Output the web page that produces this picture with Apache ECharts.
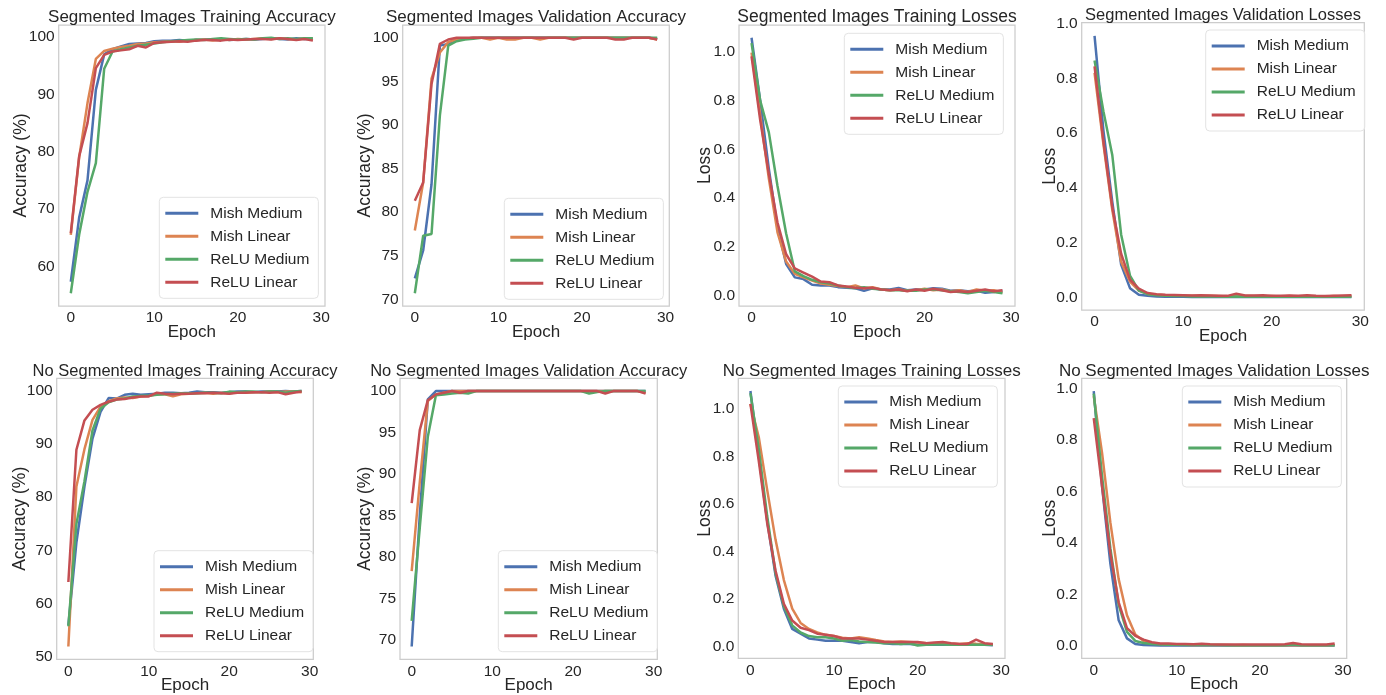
<!DOCTYPE html>
<html>
<head>
<meta charset="utf-8">
<title>Training curves</title>
<script src="https://cdn.jsdelivr.net/npm/echarts@6/dist/echarts.min.js"></script>
<style>
html, body { margin: 0; padding: 0; background: #fff; }
#main { width: 1386px; height: 695px; }
</style>
</head>
<body>
<div id="main"></div>
<script>
// ---- data ----
var names = ['Mish Medium', 'Mish Linear', 'ReLU Medium', 'ReLU Linear'];
var epochTicks = [0, 10, 20, 30];
var accTicksA = [60, 70, 80, 90, 100];
var accTicksB = [70, 75, 80, 85, 90, 95, 100];
var accTicksC = [50, 60, 70, 80, 90, 100];
var lossTicks = [0, 0.2, 0.4, 0.6, 0.8, 1.0];

var titles = [
    'Segmented Images Training Accuracy', 'Segmented Images Validation Accuracy',
    'Segmented Images Training Losses', 'Segmented Images Validation Losses',
    'No Segmented Images Training Accuracy', 'No Segmented Images Validation Accuracy',
    'No Segmented Images Training Losses', 'No Segmented Images Validation Losses'
];
var yNames = ['Accuracy (%)', 'Accuracy (%)', 'Loss', 'Loss', 'Accuracy (%)', 'Accuracy (%)', 'Loss', 'Loss'];

var segTrainAccMM = [57.3, 68.5, 75.0, 90.8, 97.0, 97.9, 98.4, 98.8, 98.9, 99.0, 99.3, 99.4, 99.4, 99.5, 99.4, 99.5, 99.6, 99.6, 99.7, 99.5, 99.6, 99.7, 99.6, 99.7, 99.8, 99.7, 99.6, 99.8, 99.7, 99.7];
var segTrainAccML = [65.5, 79.0, 88.5, 96.2, 97.6, 98.0, 98.3, 98.5, 98.8, 98.9, 99.1, 99.2, 99.3, 99.2, 99.4, 99.5, 99.6, 99.4, 99.6, 99.5, 99.7, 99.6, 99.7, 99.8, 99.7, 99.8, 99.7, 99.6, 99.8, 99.7];
var segTrainAccRM = [55.3, 65.5, 73.0, 78.0, 94.5, 97.5, 97.9, 98.2, 98.5, 98.7, 98.9, 99.1, 99.3, 99.4, 99.5, 99.6, 99.5, 99.7, 99.8, 99.7, 99.6, 99.7, 99.6, 99.8, 99.9, 99.7, 99.8, 99.7, 99.8, 99.8];
var segTrainAccRL = [65.8, 79.2, 85.0, 94.6, 96.9, 97.5, 97.7, 97.9, 98.5, 98.2, 99.0, 99.1, 99.2, 99.3, 99.2, 99.4, 99.5, 99.5, 99.4, 99.6, 99.5, 99.6, 99.7, 99.7, 99.6, 99.8, 99.7, 99.5, 99.7, 99.4];

var segValAccMM = [72.4, 75.6, 83.2, 99.1, 99.3, 99.8, 99.9, 100, 100, 100, 100, 100, 100, 100, 100, 100, 100, 100, 100, 100, 100, 100, 100, 100, 100, 100, 100, 100, 100, 99.9];
var segValAccML = [77.9, 83.4, 95.3, 98.3, 99.5, 99.8, 99.9, 100, 100, 99.8, 100, 99.8, 99.8, 100, 100, 99.8, 100, 100, 100, 100, 100, 100, 100, 100, 100, 100, 100, 100, 100, 99.8];
var segValAccRM = [70.7, 77.3, 77.5, 91.1, 99.1, 99.6, 99.8, 99.9, 100, 100, 100, 100, 100, 100, 100, 100, 100, 100, 100, 100, 100, 100, 100, 100, 100, 100, 100, 100, 100, 100];
var segValAccRL = [81.3, 83.4, 94.7, 99.3, 99.8, 100, 100, 100, 100, 100, 100, 100, 100, 100, 100, 100, 100, 100, 100, 99.8, 100, 100, 100, 100, 99.8, 99.8, 100, 100, 100, 99.8];

var segTrainLossMM = [1.058, 0.80, 0.52, 0.28, 0.13, 0.075, 0.068, 0.045, 0.042, 0.042, 0.035, 0.032, 0.03, 0.02, 0.03, 0.025, 0.025, 0.032, 0.022, 0.025, 0.025, 0.03, 0.028, 0.02, 0.022, 0.018, 0.02, 0.012, 0.015, 0.02];
var segTrainLossML = [0.997, 0.74, 0.48, 0.26, 0.14, 0.09, 0.075, 0.062, 0.05, 0.045, 0.04, 0.035, 0.042, 0.03, 0.035, 0.025, 0.022, 0.025, 0.02, 0.022, 0.028, 0.022, 0.025, 0.018, 0.022, 0.015, 0.025, 0.02, 0.022, 0.012];
var segTrainLossRM = [1.036, 0.80, 0.67, 0.45, 0.255, 0.10, 0.08, 0.065, 0.055, 0.05, 0.042, 0.035, 0.03, 0.035, 0.028, 0.025, 0.022, 0.022, 0.02, 0.02, 0.025, 0.025, 0.022, 0.018, 0.015, 0.01, 0.015, 0.02, 0.015, 0.01];
var segTrainLossRL = [0.982, 0.72, 0.50, 0.30, 0.17, 0.112, 0.095, 0.078, 0.058, 0.055, 0.042, 0.038, 0.032, 0.03, 0.032, 0.025, 0.022, 0.025, 0.018, 0.025, 0.02, 0.028, 0.022, 0.015, 0.018, 0.015, 0.02, 0.025, 0.018, 0.022];

var segValLossMM = [0.955, 0.61, 0.35, 0.12, 0.034, 0.01, 0.006, 0.004, 0.003, 0.003, 0.003, 0.002, 0.002, 0.002, 0.002, 0.002, 0.002, 0.002, 0.002, 0.002, 0.002, 0.002, 0.002, 0.002, 0.002, 0.002, 0.002, 0.002, 0.002, 0.002];
var segValLossML = [0.82, 0.56, 0.32, 0.13, 0.058, 0.025, 0.013, 0.01, 0.008, 0.007, 0.006, 0.006, 0.005, 0.006, 0.005, 0.004, 0.006, 0.005, 0.005, 0.004, 0.005, 0.004, 0.005, 0.004, 0.005, 0.004, 0.004, 0.005, 0.004, 0.005];
var segValLossRM = [0.865, 0.68, 0.52, 0.23, 0.08, 0.025, 0.012, 0.008, 0.006, 0.005, 0.005, 0.004, 0.004, 0.004, 0.004, 0.003, 0.004, 0.003, 0.003, 0.003, 0.003, 0.003, 0.003, 0.003, 0.003, 0.003, 0.003, 0.003, 0.003, 0.003];
var segValLossRL = [0.843, 0.57, 0.33, 0.16, 0.065, 0.032, 0.016, 0.012, 0.01, 0.009, 0.008, 0.007, 0.008, 0.007, 0.006, 0.006, 0.014, 0.007, 0.007, 0.008, 0.006, 0.006, 0.007, 0.006, 0.008, 0.006, 0.005, 0.006, 0.007, 0.008];

var noSegTrainAccMM = [56.0, 71.5, 82.0, 91.0, 96.0, 98.6, 98.5, 99.2, 99.4, 99.2, 99.3, 99.4, 99.6, 99.6, 99.5, 99.6, 99.8, 99.7, 99.7, 99.6, 99.7, 99.8, 99.8, 99.7, 99.8, 99.8, 99.8, 99.9, 99.8, 99.9];
var noSegTrainAccML = [52.0, 82.0, 89.0, 94.5, 97.0, 98.0, 98.5, 98.7, 98.6, 98.9, 99.0, 99.3, 99.3, 98.9, 99.3, 99.4, 99.5, 99.6, 99.4, 99.6, 99.5, 99.7, 99.6, 99.7, 99.7, 99.8, 99.7, 99.8, 99.8, 99.7];
var noSegTrainAccRM = [55.8, 75.0, 83.0, 92.5, 96.6, 97.8, 98.3, 98.5, 98.9, 99.0, 99.0, 99.2, 99.3, 99.4, 99.5, 99.5, 99.5, 99.6, 99.6, 99.5, 99.8, 99.7, 99.8, 99.8, 99.7, 99.8, 99.8, 99.6, 99.8, 99.9];
var noSegTrainAccRL = [64.1, 88.9, 94.4, 96.4, 97.3, 97.9, 98.3, 98.4, 98.7, 98.9, 98.9, 99.6, 99.4, 99.3, 99.4, 99.4, 99.5, 99.5, 99.6, 99.5, 99.4, 99.6, 99.6, 99.7, 99.7, 99.6, 99.7, 99.3, 99.6, 99.8];

var noSegValAccMM = [69.2, 85.0, 99.0, 100, 100, 100, 100, 100, 100, 100, 100, 100, 100, 100, 100, 100, 100, 100, 100, 100, 100, 100, 100, 100, 100, 100, 100, 100, 100, 100];
var noSegValAccML = [78.3, 89.0, 98.8, 99.6, 99.8, 100, 100, 100, 100, 100, 100, 100, 100, 100, 100, 100, 100, 100, 100, 100, 100, 100, 100, 100, 100, 100, 100, 100, 100, 99.8];
var noSegValAccRM = [72.3, 83.5, 94.5, 99.5, 99.6, 99.7, 99.8, 99.7, 100, 100, 100, 100, 100, 100, 100, 100, 100, 100, 100, 100, 100, 100, 99.7, 99.9, 100, 100, 100, 100, 100, 100];
var noSegValAccRL = [86.5, 95.3, 98.9, 99.6, 99.8, 100, 99.8, 100, 100, 100, 100, 100, 100, 100, 100, 100, 100, 100, 100, 100, 100, 100, 100, 100, 99.7, 100, 100, 100, 100, 99.7];

var noSegTrainLossMM = [1.074, 0.80, 0.53, 0.30, 0.16, 0.075, 0.055, 0.035, 0.03, 0.025, 0.025, 0.025, 0.02, 0.015, 0.02, 0.02, 0.015, 0.012, 0.012, 0.012, 0.01, 0.008, 0.008, 0.008, 0.01, 0.01, 0.01, 0.008, 0.008, 0.006];
var noSegTrainLossML = [1.02, 0.88, 0.66, 0.45, 0.28, 0.16, 0.10, 0.075, 0.06, 0.05, 0.045, 0.038, 0.035, 0.04, 0.035, 0.028, 0.022, 0.02, 0.022, 0.02, 0.018, 0.016, 0.015, 0.017, 0.014, 0.012, 0.015, 0.013, 0.012, 0.01];
var noSegTrainLossRM = [1.065, 0.83, 0.55, 0.31, 0.17, 0.09, 0.06, 0.045, 0.04, 0.04, 0.035, 0.025, 0.028, 0.022, 0.02, 0.018, 0.015, 0.015, 0.012, 0.015, 0.005, 0.008, 0.01, 0.01, 0.008, 0.008, 0.01, 0.008, 0.008, 0.008];
var noSegTrainLossRL = [1.02, 0.78, 0.52, 0.32, 0.18, 0.11, 0.08, 0.07, 0.055, 0.05, 0.045, 0.035, 0.035, 0.035, 0.03, 0.025, 0.02, 0.02, 0.02, 0.02, 0.02, 0.015, 0.018, 0.02, 0.015, 0.012, 0.012, 0.03, 0.015, 0.012];

var noSegValLossMM = [0.99, 0.62, 0.32, 0.10, 0.03, 0.008, 0.004, 0.003, 0.002, 0.002, 0.002, 0.002, 0.002, 0.002, 0.002, 0.002, 0.002, 0.002, 0.002, 0.002, 0.002, 0.002, 0.002, 0.002, 0.002, 0.002, 0.002, 0.002, 0.002, 0.002];
var noSegValLossML = [0.97, 0.75, 0.48, 0.26, 0.12, 0.045, 0.02, 0.012, 0.008, 0.006, 0.005, 0.005, 0.004, 0.005, 0.004, 0.004, 0.004, 0.003, 0.004, 0.003, 0.003, 0.003, 0.003, 0.003, 0.003, 0.003, 0.003, 0.003, 0.003, 0.004];
var noSegValLossRM = [0.98, 0.66, 0.38, 0.16, 0.055, 0.02, 0.012, 0.008, 0.006, 0.005, 0.005, 0.004, 0.004, 0.004, 0.004, 0.004, 0.003, 0.003, 0.003, 0.003, 0.003, 0.003, 0.003, 0.003, 0.006, 0.003, 0.003, 0.003, 0.003, 0.003];
var noSegValLossRL = [0.885, 0.62, 0.36, 0.17, 0.07, 0.04, 0.025, 0.015, 0.01, 0.01, 0.008, 0.008, 0.007, 0.009, 0.007, 0.006, 0.006, 0.006, 0.006, 0.006, 0.006, 0.006, 0.006, 0.007, 0.012, 0.007, 0.006, 0.006, 0.006, 0.01];

var panelSeries = [
    [segTrainAccMM, segTrainAccML, segTrainAccRM, segTrainAccRL],
    [segValAccMM, segValAccML, segValAccRM, segValAccRL],
    [segTrainLossMM, segTrainLossML, segTrainLossRM, segTrainLossRL],
    [segValLossMM, segValLossML, segValLossRM, segValLossRL],
    [noSegTrainAccMM, noSegTrainAccML, noSegTrainAccRM, noSegTrainAccRL],
    [noSegValAccMM, noSegValAccML, noSegValAccRM, noSegValAccRL],
    [noSegTrainLossMM, noSegTrainLossML, noSegTrainLossRM, noSegTrainLossRL],
    [noSegValLossMM, noSegValLossML, noSegValLossRM, noSegValLossRL]
];
var panelTicks = [accTicksA, accTicksB, lossTicks, lossTicks, accTicksC, accTicksB, lossTicks, lossTicks];

// ---- layout / style ----
var colors = ['#4c72b0', '#dd8452', '#55a868', '#c44e52'];
var textColor = '#262626';
var font = '"Liberation Sans", Arial, sans-serif';
// grid box [left, top, width, height], title y & size, y-label x, legend [left, top]
var layout = [
    { box: [58.7, 25, 266.3, 281], ty: 17.5, ts: 17, yx: 21, lg: [159.3, 197.3] },
    { box: [402.7, 25, 266.6, 281], ty: 17.5, ts: 17, yx: 365, lg: [504.3, 198.3] },
    { box: [739, 25, 276, 281], ty: 17.5, ts: 17.5, yx: 705, lg: [844.3, 33.3] },
    { box: [1081.7, 22.7, 282.6, 287.3], ty: 15, ts: 16.5, yx: 1050, lg: [1205.7, 30] },
    { box: [56.7, 378.3, 256.6, 281], ty: 371, ts: 16.5, yx: 20, lg: [154, 550.7] },
    { box: [400, 378.3, 257.3, 281], ty: 371, ts: 16.5, yx: 365, lg: [498.3, 550.7] },
    { box: [738.3, 378.3, 266.7, 280], ty: 371, ts: 17, yx: 705, lg: [838.3, 386] },
    { box: [1081.7, 378.3, 265, 280], ty: 371, ts: 17, yx: 1050, lg: [1182.3, 386] }
];

function yRange(arrs) {
    var lo = Infinity, hi = -Infinity;
    arrs.forEach(function (a) {
        a.forEach(function (v) { lo = Math.min(lo, v); hi = Math.max(hi, v); });
    });
    var pad = (hi - lo) * 0.05;
    return [lo - pad, hi + pad];
}

var grids = [], xAxes = [], yAxes = [], series = [], legends = [], graphics = [];

panelSeries.forEach(function (arrs, p) {
    var L = layout[p];
    var b = L.box;
    var r = yRange(arrs);
    var isLoss = yNames[p] === 'Loss';

    grids.push({
        left: b[0], top: b[1], width: b[2], height: b[3],
        show: true, borderColor: '#cccccc', borderWidth: 1.25, backgroundColor: '#fff'
    });
    xAxes.push({
        type: 'value', gridIndex: p, min: -1.45, max: 30.45,
        axisLine: { show: false }, axisTick: { show: false }, splitLine: { show: false },
        axisLabel: { customValues: epochTicks, fontSize: 15.5, fontFamily: font, color: textColor, margin: 4 }
    });
    yAxes.push({
        type: 'value', gridIndex: p, min: r[0], max: r[1],
        axisLine: { show: false }, axisTick: { show: false }, splitLine: { show: false },
        axisLabel: {
            customValues: panelTicks[p], fontSize: 15.5, fontFamily: font, color: textColor, margin: 4,
            formatter: function (v) { return isLoss ? v.toFixed(1) : String(Math.round(v)); }
        }
    });

    arrs.forEach(function (vals, k) {
        series.push({
            name: names[k], type: 'line', xAxisIndex: p, yAxisIndex: p,
            data: vals.map(function (v, i) { return [i, v]; }),
            showSymbol: false, symbol: 'none', silent: true,
            color: colors[k],
            lineStyle: { width: 2.5, color: colors[k] }
        });
    });

    legends.push({
        data: names, orient: 'vertical', left: L.lg[0], top: L.lg[1],
        icon: 'rect', itemWidth: 33, itemHeight: 3, itemGap: 5,
        padding: [7, 9, 7, 6],
        backgroundColor: 'rgba(255,255,255,0.8)', borderColor: '#e3e3e3', borderWidth: 1, borderRadius: 4,
        textStyle: { fontSize: 15.5, fontFamily: font, color: textColor, lineHeight: 18, padding: [0, 0, 0, 7] }
    });

    var cx = b[0] + b[2] / 2;
    graphics.push({
        type: 'text', x: cx, y: L.ty, silent: true,
        style: { text: titles[p], align: 'center', verticalAlign: 'middle', fill: textColor,
                 font: L.ts + 'px ' + font }
    });
    graphics.push({
        type: 'text', x: cx, y: b[1] + b[3] + 26, silent: true,
        style: { text: 'Epoch', align: 'center', verticalAlign: 'middle', fill: textColor,
                 font: '17px ' + font }
    });
    graphics.push({
        type: 'text', x: L.yx, y: b[1] + b[3] / 2, rotation: Math.PI / 2, silent: true,
        style: { text: yNames[p], align: 'center', verticalAlign: 'middle', fill: textColor,
                 font: '17.5px ' + font }
    });
});

var myChart = echarts.init(document.getElementById('main'));
myChart.setOption({
    animation: false,
    backgroundColor: '#fff',
    grid: grids,
    xAxis: xAxes,
    yAxis: yAxes,
    legend: legends,
    series: series,
    graphic: graphics
});
</script>
</body>
</html>
